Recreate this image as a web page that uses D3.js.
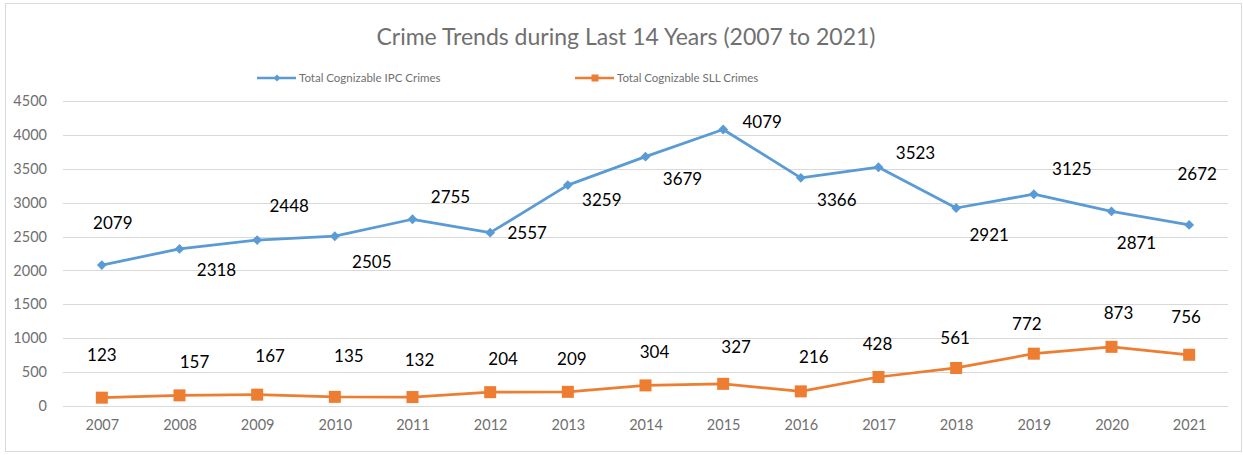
<!DOCTYPE html>
<html>
<head>
<meta charset="utf-8">
<script src="https://cdn.jsdelivr.net/npm/d3@7"></script>
<style>
  body { margin: 0; background: #fff; }
  text { font-family: Lato, "Open Sans", sans-serif; }
  .grid line { stroke: #d9d9d9; stroke-width: 1; }
  .axis text { fill: #6f6f6f; font-size: 14.5px; }
  .lbl { fill: #000; font-size: 17px; }
</style>
</head>
<body>
<svg width="1243" height="455"></svg>
<script>
// data
var years = ["2007","2008","2009","2010","2011","2012","2013","2014","2015","2016","2017","2018","2019","2020","2021"];
var ipcCrimes = [2079, 2318, 2448, 2505, 2755, 2557, 3259, 3679, 4079, 3366, 3523, 2921, 3125, 2871, 2672];
var sllCrimes = [123, 157, 167, 135, 132, 204, 209, 304, 327, 216, 428, 561, 772, 873, 756];
var yTicks = [0, 500, 1000, 1500, 2000, 2500, 3000, 3500, 4000, 4500];
var seriesNames = ["Total Cognizable IPC Crimes", "Total Cognizable SLL Crimes"];

// label nudges (px, relative to the point) - hand placed like the excel chart
var ipcLabelOff = [[11,-42],[37,21],[32,-34],[37,26],[38,-22],[37,0],[34,15],[37,22],[39,-7],[36,22],[37,-14],[33,27],[38,-25],[25,32],[8,-51]];
var sllLabelOff = [[0,-43],[15,-33],[13,-39],[14,-41],[7,-37],[13,-33],[4,-33],[9,-33],[13,-37],[13,-34],[-1,-33],[-1,-30],[-7,-30],[7,-34],[-3,-38]];

var svg = d3.select("svg"),
    plotLeft = 63, plotRight = 1228, plotTop = 101, plotBottom = 406;

var blue = "#5b9bd5", orange = "#ed7d31";

svg.append("rect")
    .attr("x", 5.5).attr("y", 3.5)
    .attr("width", 1236).attr("height", 448)
    .attr("fill", "#fff")
    .attr("stroke", "#d9d9d9");

var x = d3.scalePoint().domain(years).range([plotLeft, plotRight]).padding(0.5);
var y = d3.scaleLinear().domain([0, 4500]).range([plotBottom, plotTop]);

svg.append("text")
    .attr("x", 626).attr("y", 45)
    .attr("text-anchor", "middle")
    .attr("fill", "#707070")
    .style("font-size", "23px")
    .text("Crime Trends during Last 14 Years (2007 to 2021)");

// gridlines
svg.append("g")
    .attr("class", "grid")
    .selectAll("line")
    .data(yTicks)
    .enter().append("line")
      .attr("x1", plotLeft).attr("x2", plotRight)
      .attr("y1", function(d) { return Math.round(y(d)) + 0.5; })
      .attr("y2", function(d) { return Math.round(y(d)) + 0.5; });

var yAxis = svg.append("g")
    .attr("class", "axis")
    .attr("transform", "translate(" + 47 + ",0)")
    .call(d3.axisLeft(y).tickValues(yTicks).tickFormat(d3.format("d")).tickSize(0).tickPadding(0));
yAxis.select(".domain").remove();

var xAxis = svg.append("g")
    .attr("class", "axis")
    .attr("transform", "translate(0," + plotBottom + ")")
    .call(d3.axisBottom(x).tickSize(0).tickPadding(14));
xAxis.select(".domain").remove();

var line = d3.line()
    .x(function(d, i) { return x(years[i]); })
    .y(function(d) { return y(d); });

// IPC series
svg.append("path")
    .datum(ipcCrimes)
    .attr("fill", "none")
    .attr("stroke", blue)
    .attr("stroke-width", 2.75)
    .attr("stroke-linejoin", "round")
    .attr("d", line);

var diamond = d3.symbol().type(d3.symbolDiamond2).size(62);
svg.append("g").selectAll("path")
    .data(ipcCrimes)
    .enter().append("path")
      .attr("d", diamond)
      .attr("fill", blue)
      .attr("transform", function(d, i) { return "translate(" + x(years[i]) + "," + y(d) + ")"; });

// SLL series
svg.append("path")
    .datum(sllCrimes)
    .attr("fill", "none")
    .attr("stroke", orange)
    .attr("stroke-width", 2.75)
    .attr("stroke-linejoin", "round")
    .attr("d", line);

svg.append("g").selectAll("rect")
    .data(sllCrimes)
    .enter().append("rect")
      .attr("x", function(d, i) { return x(years[i]) - 6; })
      .attr("y", function(d) { return y(d) - 6; })
      .attr("width", 12).attr("height", 12)
      .attr("fill", orange);

// data labels
svg.append("g").selectAll("text")
    .data(ipcCrimes)
    .enter().append("text")
      .attr("class", "lbl")
      .attr("text-anchor", "middle")
      .attr("dy", "0.35em")
      .attr("x", function(d, i) { return x(years[i]) + ipcLabelOff[i][0]; })
      .attr("y", function(d, i) { return y(d) + ipcLabelOff[i][1]; })
      .text(function(d) { return d; });

svg.append("g").selectAll("text")
    .data(sllCrimes)
    .enter().append("text")
      .attr("class", "lbl")
      .attr("text-anchor", "middle")
      .attr("dy", "0.35em")
      .attr("x", function(d, i) { return x(years[i]) + sllLabelOff[i][0]; })
      .attr("y", function(d, i) { return y(d) + sllLabelOff[i][1]; })
      .text(function(d) { return d; });

// legend
var legend = svg.append("g").selectAll("g")
    .data(seriesNames)
    .enter().append("g")
      .attr("transform", function(d, i) { return "translate(" + [257, 575][i] + ",78)"; });

legend.append("line")
    .attr("x1", 0).attr("x2", 39)
    .attr("stroke", function(d, i) { return i ? orange : blue; })
    .attr("stroke-width", 2.5);

legend.append("path")
    .attr("transform", "translate(20,0)")
    .attr("d", function(d, i) {
      return i ? d3.symbol().type(d3.symbolSquare).size(49)() : d3.symbol().type(d3.symbolDiamond2).size(30)();
    })
    .attr("fill", function(d, i) { return i ? orange : blue; });

legend.append("text")
    .attr("x", 42).attr("dy", "0.35em")
    .attr("fill", "#707070")
    .style("font-size", "11.5px")
    .text(function(d) { return d; });
</script>
</body>
</html>
